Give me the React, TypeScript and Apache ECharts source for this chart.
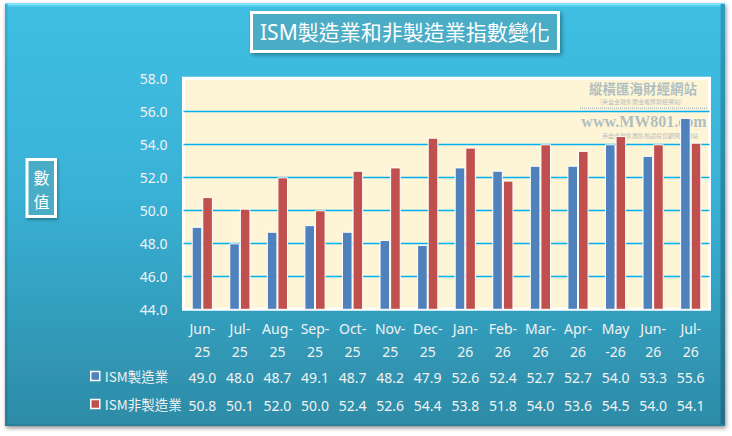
import React, { useEffect, useRef } from "react";
import * as echarts from "echarts";

const categories = ["Jun-\n25", "Jul-\n25", "Aug-\n25", "Sep-\n25", "Oct-\n25", "Nov-\n25", "Dec-\n25", "Jan-\n26", "Feb-\n26", "Mar-\n26", "Apr-\n26", "May\n-26", "Jun-\n26", "Jul-\n26"];
const mfg = [49.0, 48.0, 48.7, 49.1, 48.7, 48.2, 47.9, 52.6, 52.4, 52.7, 52.7, 54.0, 53.3, 55.6];
const nonMfg = [50.8, 50.1, 52.0, 50.0, 52.4, 52.6, 54.4, 53.8, 51.8, 54.0, 53.6, 54.5, 54.0, 54.1];
const seriesNames = ["ISM製造業", "ISM非製造業"];
const titleText = "ISM製造業和非製造業指數變化";
const yAxisName = "數\n值";
const yMin = 44;
const yMax = 58;
const yInterval = 2;

const FONT = "'Noto Sans', 'Noto Sans CJK TC', sans-serif";
const CJK = "'Noto Sans CJK TC', 'Noto Sans', sans-serif";
const LABEL = "#F2F2F2";

export default function App() {
  const ref = useRef<HTMLDivElement>(null);
  useEffect(() => {
    if (!ref.current) return;
    const chart = echarts.init(ref.current, null, { renderer: "svg" });
    const valueAxis = (values: number[], offset: number) => ({
      type: "category",
      gridIndex: 0,
      position: "bottom",
      offset,
      data: values.map((v) => v.toFixed(1)),
      axisLine: { show: false },
      axisTick: { show: false },
      splitLine: { show: false },
      axisLabel: { interval: 0, color: LABEL, fontSize: 14, fontFamily: FONT, lineHeight: 20, margin: 0 },
    });
    const wmColor = "rgba(95,135,170,0.5)";
    chart.setOption({
      animation: false,
      title: {
        text: titleText,
        left: 251,
        top: 12,
        padding: [7, 9, 7, 9],
        backgroundColor: "#4BACC6",
        borderColor: "#ffffff",
        borderWidth: 3,
        shadowBlur: 4,
        shadowColor: "rgba(0,0,0,0.35)",
        shadowOffsetX: 2,
        shadowOffsetY: 2,
        textStyle: { color: "#ffffff", fontSize: 21, fontWeight: "normal", fontFamily: FONT, lineHeight: 26 },
      },
      legend: {
        data: seriesNames,
        orient: "vertical",
        left: 90,
        top: 368,
        padding: 0,
        itemWidth: 9,
        itemHeight: 9,
        itemGap: 12,
        icon: "rect",
        itemStyle: { borderColor: "#ffffff", borderWidth: 1.5 },
        textStyle: { color: LABEL, fontSize: 13.5, fontFamily: CJK, lineHeight: 16 },
      },
      grid: {
        left: 183.5,
        right: 22.5,
        top: 78.3,
        bottom: 126.7,
        show: true,
        backgroundColor: "#FEF5D7",
        borderColor: "#ffffff",
        borderWidth: 3,
        containLabel: false,
      },
      xAxis: [
        {
          type: "category",
          gridIndex: 0,
          position: "bottom",
          data: categories,
          axisLine: { show: false },
          axisTick: { show: false },
          splitLine: { show: false },
          axisLabel: { interval: 0, color: LABEL, fontSize: 14, fontFamily: FONT, lineHeight: 23, margin: 8 },
        },
        valueAxis(mfg, 58),
        valueAxis(nonMfg, 86),
      ],
      yAxis: {
        type: "value",
        min: yMin,
        max: yMax,
        interval: yInterval,
        axisLine: { show: false },
        axisTick: { show: false },
        axisLabel: {
          color: LABEL,
          fontSize: 14,
          fontFamily: FONT,
          margin: 16,
          formatter: (v: number) => v.toFixed(1),
        },
        splitLine: { show: true, showMinLine: false, showMaxLine: false, lineStyle: { color: "#00B0F0", width: 1.3 } },
      },
      series: [
        {
          name: seriesNames[0],
          type: "bar",
          xAxisIndex: 0,
          data: mfg,
          barWidth: 10.6,
          barGap: "0%",
          itemStyle: { color: "#4F81BD", borderColor: "#ffffff", borderWidth: 1 },
          z: 3,
        },
        {
          name: seriesNames[1],
          type: "bar",
          xAxisIndex: 0,
          data: nonMfg,
          barWidth: 10.6,
          barGap: "0%",
          itemStyle: { color: "#C0504D", borderColor: "#ffffff", borderWidth: 1 },
          z: 3,
        },
      ],
      graphic: [
        {
          type: "rect",
          z: -10,
          shape: { x: 5, y: 3, width: 720, height: 423 },
          style: {
            fill: new echarts.graphic.LinearGradient(0, 0, 0, 1, [
              { offset: 0, color: "#3FBFE2" },
              { offset: 0.45, color: "#39B2D6" },
              { offset: 1, color: "#2D8BA6" },
            ]),
            shadowBlur: 4,
            shadowColor: "rgba(0,0,0,0.45)",
            shadowOffsetX: 1,
            shadowOffsetY: 2,
          },
        },
        { type: "rect", z: -9, shape: { x: 5, y: 3, width: 720, height: 2 }, style: { fill: "#80E4FA" } },
        { type: "rect", z: -9, shape: { x: 5, y: 5, width: 720, height: 1.5 }, style: { fill: "#5AD3F0" } },
        {
          type: "rect",
          z: -9,
          shape: { x: 5, y: 4, width: 2.5, height: 422 },
          style: {
            fill: new echarts.graphic.LinearGradient(0, 0, 0, 1, [
              { offset: 0, color: "#35AED3" },
              { offset: 1, color: "#267E98" },
            ]),
          },
        },
        {
          type: "rect",
          z: -9,
          shape: { x: 720.5, y: 4, width: 4.5, height: 422 },
          style: {
            fill: new echarts.graphic.LinearGradient(0, 0, 0, 1, [
              { offset: 0, color: "#2F9DBF" },
              { offset: 1, color: "#236F87" },
            ]),
          },
        },
        { type: "rect", z: -9, shape: { x: 5, y: 424, width: 720, height: 2 }, style: { fill: "#2A7F99" } },
        // watermark
        {
          type: "text",
          z: 1,
          x: 643,
          y: 87.5,
          style: { text: "縱橫匯海財經網站", fill: wmColor, font: `bold 13.5px 'Noto Sans CJK TC'`, lineHeight: 14, align: "center", verticalAlign: "middle" },
        },
        {
          type: "text",
          z: 1,
          x: 641,
          y: 101,
          style: { text: "(英盘金融集團金權匯財經網站)", fill: wmColor, font: `6px 'Noto Sans CJK TC'`, lineHeight: 6, align: "center", verticalAlign: "middle" },
        },
        {
          type: "line",
          z: 1,
          shape: { x1: 580, y1: 108.3, x2: 708, y2: 108.3 },
          style: { stroke: "rgba(120,145,170,0.45)", lineWidth: 2, lineDash: [1, 1] },
        },
        {
          type: "text",
          z: 1,
          x: 644,
          y: 121,
          style: { text: "www.MW801.com", fill: wmColor, font: `bold 16px 'Liberation Serif'`, lineHeight: 13, align: "center", verticalAlign: "middle" },
        },
        {
          type: "text",
          z: 1,
          x: 650,
          y: 135,
          style: { text: "英盘金融集團集格認投資顧問之網站", fill: wmColor, font: `6px 'Noto Sans CJK TC'`, lineHeight: 6, align: "center", verticalAlign: "middle" },
        },
        // y axis name box
        {
          type: "rect",
          z: 5,
          shape: { x: 27, y: 159.5, width: 28.5, height: 57 },
          style: {
            fill: "#4BACC6",
            stroke: "#ffffff",
            lineWidth: 3,
            shadowBlur: 3,
            shadowColor: "rgba(0,0,0,0.3)",
            shadowOffsetX: 1,
            shadowOffsetY: 2,
          },
        },
        {
          type: "text",
          z: 6,
          x: 41.5,
          y: 189,
          style: { text: yAxisName, fill: "#ffffff", font: `16px 'Noto Sans CJK TC'`, lineHeight: 24, align: "center", verticalAlign: "middle" },
        },
      ],
    });
    return () => chart.dispose();
  }, []);
  return <div ref={ref} style={{ position: "absolute", left: 0, top: 0, width: 732, height: 436 }} />;
}
